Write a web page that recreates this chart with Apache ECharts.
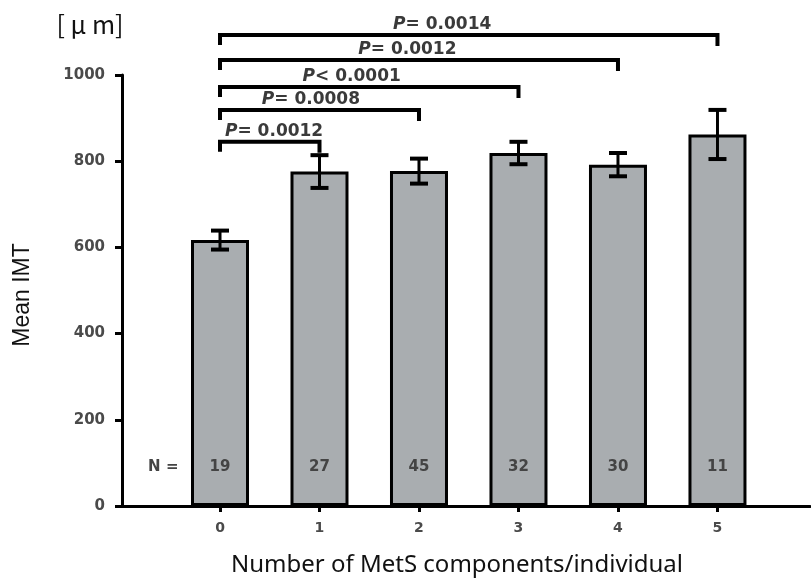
<!DOCTYPE html>
<html><head><meta charset="utf-8">
<script src="https://cdn.jsdelivr.net/npm/echarts@6/dist/echarts.min.js"></script>
<style>html,body{margin:0;padding:0;background:#fff}#c{width:811px;height:586px}</style>
</head><body><div id="c"></div>
<script>
// ---- data ----
const categories = [0, 1, 2, 3, 4, 5];
const meanIMT = [617, 776, 777, 819, 792, 862];
const errIMT = [22, 38, 29, 26, 27, 57];
const nCounts = [19, 27, 45, 32, 30, 11];
const yTicks = [0, 200, 400, 600, 800, 1000];
const compareFrom = [0, 0, 0, 0, 0];
const compareTo = [1, 2, 3, 4, 5];
const pLabels = ['= 0.0012', '= 0.0008', '< 0.0001', '= 0.0012', '= 0.0014'];

// ---- layout (annotation placement, not data) ----
const bracketLevels = [845, 919, 972, 1035, 1093];
const pTextStart = [0.05, 0.42, 0.83, 1.39, 1.74];
const nTextLevel = 90;
const nPrefixX = -0.57;

const chart = echarts.init(document.getElementById('c'), null, {renderer: 'canvas'});
const tickFont = 'DejaVu Sans';

chart.setOption({
  animation: false,
  backgroundColor: '#fff',
  grid: {left: 122, right: 1, top: 75, bottom: 80},
  xAxis: {
    type: 'value', min: -0.985, max: 5.93,
    splitLine: {show: false},
    axisLine: {show: true, onZero: false, lineStyle: {color: '#000', width: 3}},
    axisTick: {show: true, customValues: categories, length: 6, lineStyle: {color: '#000', width: 3}},
    axisLabel: {customValues: categories, margin: 15, fontFamily: tickFont, fontWeight: 'bold', fontSize: 14, color: '#4a4a4a'}
  },
  yAxis: {
    type: 'value', min: 0, max: 1000, interval: 200,
    splitLine: {show: false},
    axisLine: {show: true, onZero: false, lineStyle: {color: '#000', width: 3}},
    axisTick: {show: true, length: 7, lineStyle: {color: '#000', width: 3}},
    axisLabel: {margin: 17, fontFamily: tickFont, fontWeight: 'bold', fontSize: 15, color: '#4a4a4a',
      formatter: v => yTicks.includes(v) ? String(v) : ''}
  },
  graphic: [
    {type: 'text', x: 90, y: 24, style: {text: '[ μ m]', font: '25px "Noto Sans CJK JP"', fill: '#111', align: 'center', verticalAlign: 'middle'}},
    {type: 'text', x: 23, y: 295, rotation: Math.PI / 2, style: {text: 'Mean IMT', font: '23px "Liberation Sans"', fill: '#111', align: 'center', verticalAlign: 'middle'}},
    {type: 'text', x: 457, y: 565, style: {text: 'Number of MetS components/individual', font: '24px "Noto Sans"', fill: '#111', align: 'center', verticalAlign: 'middle'}}
  ],
  series: [
    {
      type: 'bar', barWidth: 58,
      data: categories.map((c, i) => [c, meanIMT[i]]),
      itemStyle: {color: '#a9adb0', borderColor: '#000', borderWidth: 3},
      z: 2
    },
    {
      type: 'custom', z: 3,
      data: categories.map((c, i) => [c, meanIMT[i], errIMT[i]]),
      renderItem: function (params, api) {
        const x = api.value(0), m = api.value(1), e = api.value(2);
        const top = api.coord([x, m + e]);
        const bot = api.coord([x, m - e]);
        const hw = 9;
        return {type: 'group', children: [
          {type: 'line', shape: {x1: top[0], y1: top[1], x2: bot[0], y2: bot[1]}, style: {stroke: '#000', lineWidth: 3}},
          {type: 'line', shape: {x1: top[0] - hw, y1: top[1], x2: top[0] + hw, y2: top[1]}, style: {stroke: '#000', lineWidth: 4}},
          {type: 'line', shape: {x1: bot[0] - hw, y1: bot[1], x2: bot[0] + hw, y2: bot[1]}, style: {stroke: '#000', lineWidth: 4}}
        ]};
      }
    },
    {
      type: 'custom', z: 4,
      data: categories.map((c, i) => [c, nCounts[i]]),
      renderItem: function (params, api) {
        const p = api.coord([api.value(0), nTextLevel]);
        const children = [
          {type: 'text', x: p[0], y: p[1], style: {text: String(api.value(1)), font: 'bold 15px "DejaVu Sans"', fill: '#444', align: 'center', verticalAlign: 'middle'}}
        ];
        if (params.dataIndex === 0) {
          const q = api.coord([nPrefixX, nTextLevel]);
          children.push({type: 'text', x: q[0], y: q[1], style: {text: 'N =', font: 'bold 15px "DejaVu Sans"', fill: '#444', align: 'center', verticalAlign: 'middle'}});
        }
        return {type: 'group', children: children};
      }
    },
    {
      type: 'custom', z: 5,
      data: compareTo.map((t, i) => [compareFrom[i], t]),
      renderItem: function (params, api) {
        const i = params.dataIndex;
        const a = api.coord([api.value(0), bracketLevels[i]]);
        const b = api.coord([api.value(1), bracketLevels[i]]);
        const t = api.coord([pTextStart[i], bracketLevels[i]]);
        const dropL = 10, dropR = 11;
        return {type: 'group', children: [
          {type: 'polyline', shape: {points: [[a[0], a[1] + dropL], [a[0], a[1]], [b[0], b[1]], [b[0], b[1] + dropR]]},
            style: {stroke: '#000', lineWidth: 4, fill: null}},
          {type: 'text', x: t[0], y: a[1] - 2,
            style: {text: '{i|P}' + pLabels[i], font: 'bold 17px "DejaVu Sans"', fill: '#3a3a3a', align: 'left', verticalAlign: 'bottom',
              rich: {i: {fontStyle: 'italic', fontWeight: 'bold', fontSize: 17, fontFamily: 'DejaVu Sans', fill: '#3a3a3a', color: '#3a3a3a'}}}}
        ]};
      }
    }
  ]
});
</script>
</body></html>
